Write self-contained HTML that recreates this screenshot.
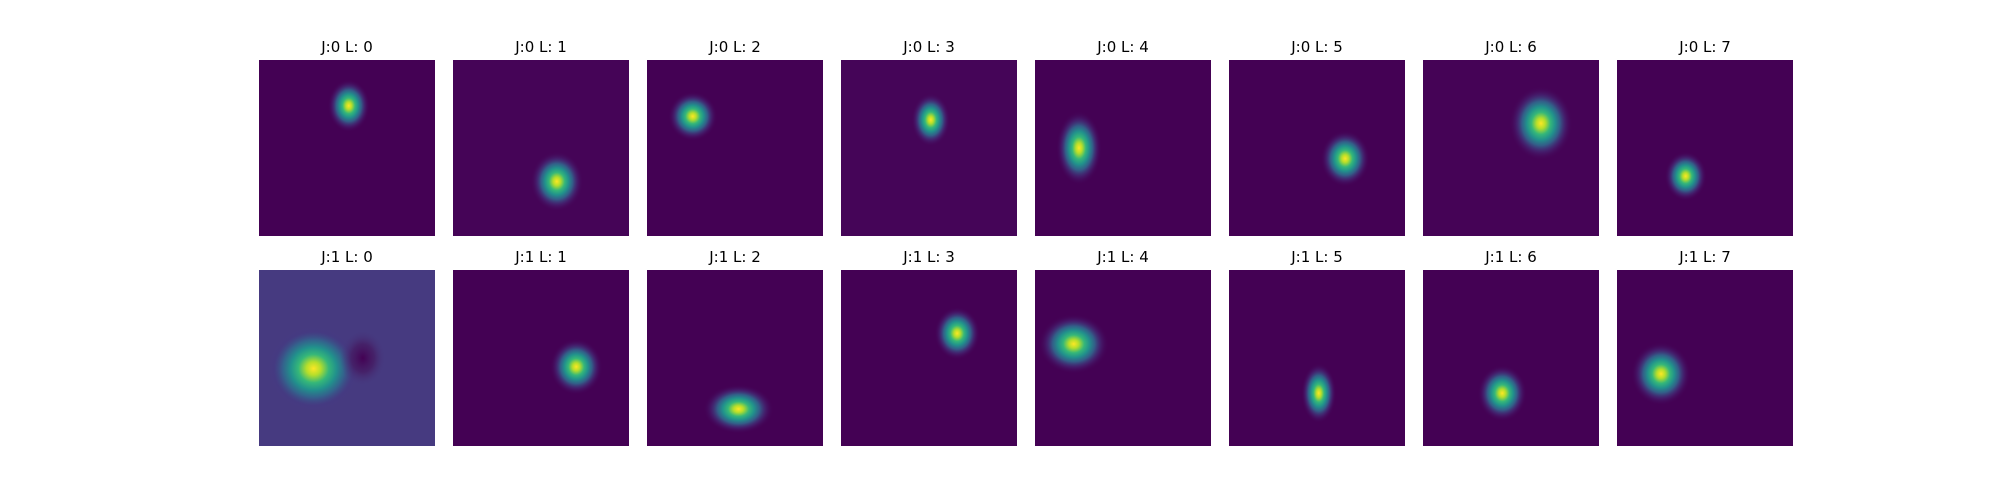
<!DOCTYPE html>
<html><head><meta charset="utf-8"><style>
html,body{margin:0;padding:0;background:#fff;}
svg{display:block;}
text{font-family:"DejaVu Sans","Liberation Sans",sans-serif;font-size:15px;fill:#000;}
</style></head><body>
<svg id="chart" width="2000" height="500" viewBox="0 0 2000 500" xmlns="http://www.w3.org/2000/svg"></svg>
<script>
// Data: per panel blob center (fraction of panel), radii (fraction), per row J
const jValues = [0, 1];
const lValues = [0, 1, 2, 3, 4, 5, 6, 7];
const centerX = [
  [0.51, 0.59, 0.26, 0.51, 0.25, 0.66, 0.67, 0.39],
  [0.31, 0.70, 0.52, 0.66, 0.22, 0.51, 0.45, 0.25]
];
const centerY = [
  [0.26, 0.69, 0.32, 0.34, 0.50, 0.56, 0.36, 0.66],
  [0.56, 0.55, 0.79, 0.36, 0.42, 0.70, 0.70, 0.59]
];
const radiusX = [
  [0.12, 0.15, 0.14, 0.11, 0.13, 0.14, 0.18, 0.12],
  [0.29, 0.15, 0.20, 0.13, 0.20, 0.10, 0.14, 0.17]
];
const radiusY = [
  [0.15, 0.17, 0.14, 0.15, 0.21, 0.16, 0.21, 0.14],
  [0.27, 0.16, 0.14, 0.15, 0.17, 0.17, 0.16, 0.18]
];
const bgColor = [
  ["#440154","#450457","#440154","#450558","#440154","#440154","#450356","#440154"],
  ["#463a80","#440154","#440154","#440154","#440154","#440154","#440154","#440154"]
];

const svg = document.getElementById('chart');
const NS = 'http://www.w3.org/2000/svg';
const x0 = 259, step = 194, size = 176;
const rowY = [60, 270];
function px(col, f){ return x0 + col*step + f*size; }
function py(row, f){ return rowY[row] + f*size; }

const defs = document.createElementNS(NS,'defs');
svg.appendChild(defs);
const stops = [[0,'#fde725',1],[0.14,'#b5de2b',1],[0.3,'#35b779',1],[0.45,'#21918c',1],[0.6,'#31688e',0.9],[0.78,'#443983',0.45]];

jValues.forEach((j, r) => {
  lValues.forEach((l, c) => {
    const g = document.createElementNS(NS,'g');
    
    
    const bg = bgColor[r][c];
    const grad = document.createElementNS(NS,'radialGradient');
    const gid = 'g' + r + '_' + c;
    grad.setAttribute('id', gid);
    stops.forEach(s => {
      const st = document.createElementNS(NS,'stop');
      st.setAttribute('offset', s[0]);
      st.setAttribute('stop-color', s[1]);
      st.setAttribute('stop-opacity', s[2]);
      grad.appendChild(st);
    });
    const last = document.createElementNS(NS,'stop');
    last.setAttribute('offset', 1);
    last.setAttribute('stop-color', bg);
    last.setAttribute('stop-opacity', 0);
    grad.appendChild(last);
    defs.appendChild(grad);

    const rect = document.createElementNS(NS,'rect');
    
    
    rect.setAttribute('x', px(c,0)); rect.setAttribute('y', py(r,0));
    rect.setAttribute('width', size); rect.setAttribute('height', size);
    rect.setAttribute('fill', bg);
    g.appendChild(rect);

    const e = document.createElementNS(NS,'ellipse');
    
    
    e.setAttribute('cx', px(c, centerX[r][c])); e.setAttribute('cy', py(r, centerY[r][c]));
    e.setAttribute('rx', size*radiusX[r][c]); e.setAttribute('ry', size*radiusY[r][c]);
    e.setAttribute('fill', 'url(#' + gid + ')');
    g.appendChild(e);

    if (r === 1 && c === 0) {
      const dg = document.createElementNS(NS,'radialGradient');
      dg.setAttribute('id','dark');
      [[0,'#440154',1],[0.5,'#45175f',0.7],[1,bg,0]].forEach(s=>{
        const st=document.createElementNS(NS,'stop');
        st.setAttribute('offset',s[0]);st.setAttribute('stop-color',s[1]);st.setAttribute('stop-opacity',s[2]);dg.appendChild(st);});
      defs.appendChild(dg);
      const d = document.createElementNS(NS,'ellipse');
      
      
      d.setAttribute('cx', px(c, centerX[r][c] + 0.28)); d.setAttribute('cy', py(r, centerY[r][c] - 0.06));
      d.setAttribute('rx', size*0.13); d.setAttribute('ry', size*0.16);
      d.setAttribute('fill', 'url(#dark)');
      g.appendChild(d);
    }

    const t = document.createElementNS(NS,'text');
    
    
    t.setAttribute('x', px(c, 0.5)); t.setAttribute('y', rowY[r] - 8);
    t.setAttribute('text-anchor', 'middle');
    t.textContent = 'J:' + j + ' L: ' + l;
    g.appendChild(t);
    svg.appendChild(g);
  });
});
</script>
</body></html>
